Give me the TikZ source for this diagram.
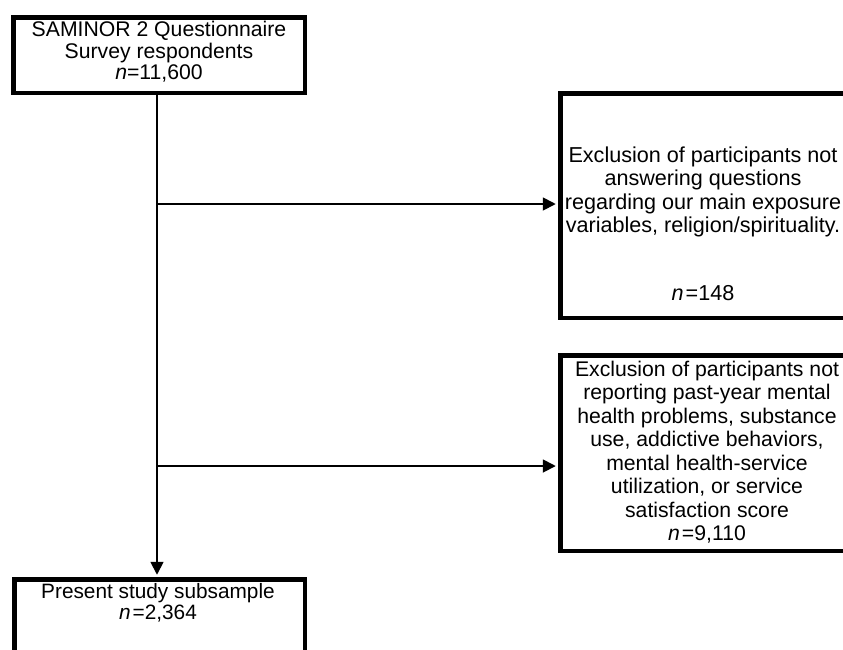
\documentclass[tikz,border=0pt]{standalone}
\usepackage{fontspec}
\setmainfont{Liberation Sans}
\usetikzlibrary{arrows.meta}
\begin{document}
\begin{tikzpicture}[x=1pt,y=-1pt,
  boxframe/.style={draw=black, line width=4.5pt, inner sep=0pt},
  sidetxt/.style={align=center, inner sep=0pt, font=\fontsize{21.6}{23.5}\selectfont},
  sidetxtb/.style={align=center, inner sep=0pt, font=\fontsize{21.2}{23.5}\selectfont},
  toptxt/.style={align=center, inner sep=0pt, font=\fontsize{21.2}{21.5}\selectfont},
  bottxt/.style={align=center, inner sep=0pt, font=\fontsize{20.8}{21}\selectfont},
  conn/.style={line width=1.8pt, -{Triangle[length=13pt,width=13pt]}, shorten >=2.25pt},
]
\useasboundingbox (0,0) rectangle (843,649);
\clip (0,0) rectangle (843,649);

% boxes
\node[boxframe, minimum width=291.5pt, minimum height=75.5pt] (top) at (159,55) {};
\node[boxframe, minimum width=289.5pt, minimum height=224.5pt] (excl1) at (705,205.5) {};
\node[boxframe, minimum width=289.5pt, minimum height=195.5pt] (excl2) at (705,453) {};
\node[boxframe, minimum width=290.5pt, minimum height=88.5pt] (bottom) at (159.5,623.5) {};

% texts
\node[toptxt] (toptext) at (159,52) {SAMINOR 2 Questionnaire\\Survey respondents\\\textit{n}=11,600};
\node[sidetxt] (excl1text) at (703,192) {Exclusion of participants not\\answering questions\\regarding our main exposure\\variables, religion/spirituality.};
\node[sidetxt] (excl1n) at (703,293) {\textit{n}\hspace{2pt}=148};
\node[sidetxtb] (excl2text) at (707,452) {Exclusion of participants not\\reporting past-year mental\\health problems, substance\\use, addictive behaviors,\\mental health-service\\utilization, or service\\satisfaction score\\\textit{n}\hspace{2pt}=9,110};
\node[bottxt] (bottomtext) at (158,603) {Present study subsample\\\textit{n}\hspace{2pt}=2,364};

% connectors
\coordinate (j1) at (157,204);
\coordinate (j2) at (157,466);
\draw[conn] ([xshift=-2pt]top.south) -- ([xshift=-2pt]top.south |- bottom.north);
\draw[conn] (j1) -- (j1 -| excl1.west);
\draw[conn] (j2) -- (j2 -| excl2.west);
\end{tikzpicture}
\end{document}
